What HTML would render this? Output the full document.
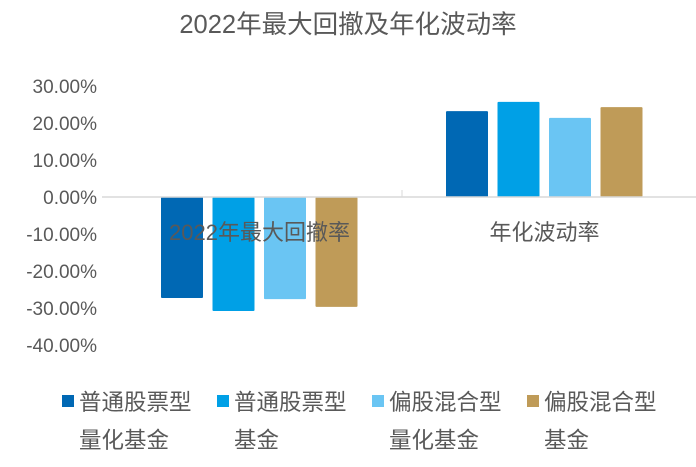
<!DOCTYPE html>
<html><head><meta charset="utf-8"><style>
body{margin:0;background:#fff;}
svg text{font-family:"Liberation Sans","Noto Sans CJK SC",sans-serif;fill:#595959;}
</style></head><body>
<svg id="c" width="696" height="462">
<text x="348" y="33" font-size="25.5" text-anchor="middle">2022年最大回撤及年化波动率</text>
<g id="yaxis"></g>
<g id="bars"></g>
<g id="xaxis"></g>
<g id="legend"></g>
</svg>
<script>
const categories=["2022年最大回撤率","年化波动率"];
const seriesNames=[["普通股票型","量化基金"],["普通股票型","基金"],["偏股混合型","量化基金"],["偏股混合型","基金"]];
const s1=[-27.3,23.2];
const s2=[-30.8,25.7];
const s3=[-27.6,21.4];
const s4=[-29.7,24.3];
const ticks=[30,20,10,0,-10,-20,-30,-40];
const colors=["#0068B4","#00A0E6","#6AC5F3","#BF9B58"];
const series=[s1,s2,s3,s4];
const NS="http://www.w3.org/2000/svg";
const x0=117,x1=687,yZero=197,pxPer=3.7;
const y=v=>yZero-v*pxPer;
const bw=(x1-x0)/categories.length;
function mk(tag,attrs,parent,text){const e=document.createElementNS(NS,tag);for(const k in attrs)e.setAttribute(k,attrs[k]);if(text!==undefined)e.textContent=text;document.getElementById(parent).appendChild(e);return e;}
ticks.forEach(t=>{
 const e=mk('text',{x:97,y:y(t)+7,'font-size':19,'text-anchor':'end'},'yaxis',t.toFixed(2)+'%');
 
 
});
const offs=[-77.5,-26,25.5,77];
categories.forEach((c,i)=>{
 const cx=x0+bw*(i+0.5);
 series.forEach((s,j)=>{
  const v=s[i];
  const r=mk('rect',{x:cx+offs[j]-21,y:Math.min(y(v),yZero),width:42,height:Math.abs(y(v)-yZero),fill:colors[j],rx:1},'bars');
  
  
 });
});
const ax=mk('line',{x1:x0-15,x2:x1+9,y1:yZero,y2:yZero,stroke:'#d9d9d9','stroke-width':1.5},'xaxis');


const dv=mk('line',{x1:x0+bw,x2:x0+bw,y1:yZero-7,y2:yZero,stroke:'#d9d9d9','stroke-width':1},'xaxis');


categories.forEach((c,i)=>{
 const e=mk('text',{x:x0+bw*(i+0.5),y:yZero+43,'font-size':22,'text-anchor':'middle'},'xaxis',c);
 
 
});
seriesNames.forEach((n,j)=>{
 const lx=62+j*155;
 const r=mk('rect',{x:lx,y:395,width:12,height:12,fill:colors[j]},'legend');
 
 
 const t1=mk('text',{x:lx+17,y:410,'font-size':22.5},'legend',n[0]);
 
 
 const t2=mk('text',{x:lx+17,y:448,'font-size':22.5},'legend',n[1]);
 
 
});
</script>
</body></html>
